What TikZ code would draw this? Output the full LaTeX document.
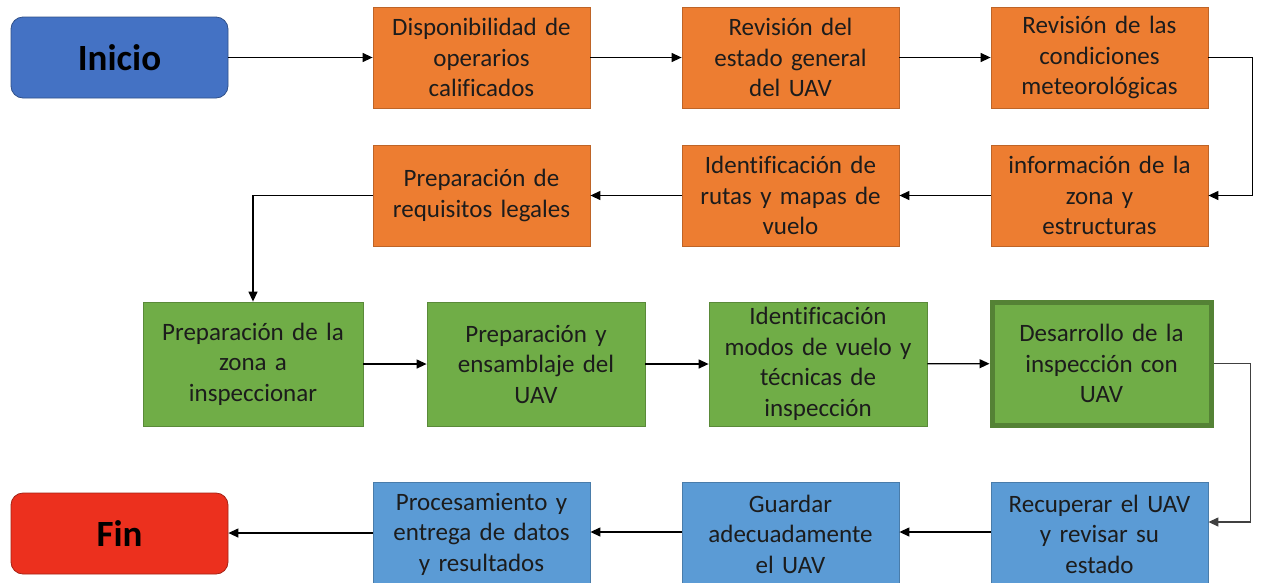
\documentclass[tikz,border=0pt]{standalone}
\usepackage{fontspec}
\setmainfont{Carlito}[Ligatures=NoCommon]
\usetikzlibrary{arrows.meta}
\definecolor{cblue}{HTML}{4472C4}
\definecolor{corange}{HTML}{ED7D31}
\definecolor{cgreen}{HTML}{70AD47}
\definecolor{cgreenb}{HTML}{548235}
\definecolor{clblue}{HTML}{5B9BD5}
\definecolor{cred}{HTML}{EC301E}
\definecolor{ctext}{HTML}{1C1C1C}
\tikzset{
  box/.style={draw=#1!80!black, line width=0.8pt, fill=#1, minimum width=217pt, minimum height=101pt,
    align=center, text width=212pt, font=\fontsize{25}{30.5}\selectfont, text=ctext, inner sep=0pt},
  term/.style={draw=#1!70!black, line width=0.8pt, fill=#1, rounded corners=12pt, minimum width=217pt, minimum height=81pt,
    font=\fontsize{37}{40}\selectfont\bfseries, text=black, inner sep=0pt},
  conn/.style={line width=1.3pt, -{Triangle[length=10pt,width=9pt]}}
}
\begin{document}
\begin{tikzpicture}[x=1pt,y=-1pt]
\useasboundingbox (0,0) rectangle (1268,582);
\node[term=cblue] (ini) at (119.5,57.5) {Inicio};
\node[box=corange] (o1) at (481.5,57.5) {Disponibilidad de\\operarios\\calificados};
\node[box=corange] (o2) at (790.5,57.5) {Revisión del\\estado general\\del UAV};
\node[box=corange] (o3) at (1099.5,57.5) {Revisión de las\\condiciones\\meteorológicas};
\node[box=corange] (o4) at (1099.5,195.5) {información de la\\zona y\\estructuras};
\node[box=corange] (o5) at (790.5,195.5) {Identificación de\\rutas y mapas de\\vuelo};
\node[box=corange] (o6) at (481.5,195.5) {Preparación de\\requisitos legales};
\node[box=cgreen, minimum width=220pt, minimum height=124pt] (g1) at (253,364) {Preparación de la\\zona a\\inspeccionar};
\node[box=cgreen, minimum width=218pt, minimum height=124pt] (g2) at (536,364) {Preparación y\\ensamblaje del\\UAV};
\node[box=cgreen, minimum width=218pt, minimum height=124pt] (g3) at (818,364) {Identificación\\modos de vuelo y\\técnicas de\\inspección};
\node[box=cgreen, draw=cgreenb, line width=5pt, minimum width=219pt, minimum height=123pt] (g4) at (1101.5,363.5) {Desarrollo de la\\inspección con\\UAV};
\node[box=clblue, minimum height=104pt] (b1) at (1099.5,534) {Recuperar el UAV\\y revisar su\\estado};
\node[box=clblue, minimum height=104pt] (b2) at (790.5,534) {Guardar\\adecuadamente\\el UAV};
\node[box=clblue, minimum height=104pt] (b3) at (481.5,534) {Procesamiento y\\entrega de datos\\y resultados};
\node[term=cred] (fin) at (119.5,533.5) {Fin};
\draw[conn] (ini) -- (o1);
\draw[conn] (o1) -- (o2);
\draw[conn] (o2) -- (o3);
\draw[conn] (o3.east) -- ++(44,0) |- (o4.east);
\draw[conn] (o4) -- (o5);
\draw[conn] (o5) -- (o6);
\draw[conn] (o6.west) -| (g1.north);
\draw[conn] (g1) -- (g2);
\draw[conn] (g2) -- (g3);
\draw[conn] (g3) -- (g4);
\draw[conn, draw=black!75] (g4.east) -- ++(37,0) |- (b1.east |- 0,522);
\draw[conn] (b1.west |- 0,532) -- (b2.east |- 0,532);
\draw[conn] (b2.west |- 0,532) -- (b3.east |- 0,532);
\draw[conn] (b3.west |- 0,533) -- (fin.east |- 0,533);
\end{tikzpicture}
\end{document}
